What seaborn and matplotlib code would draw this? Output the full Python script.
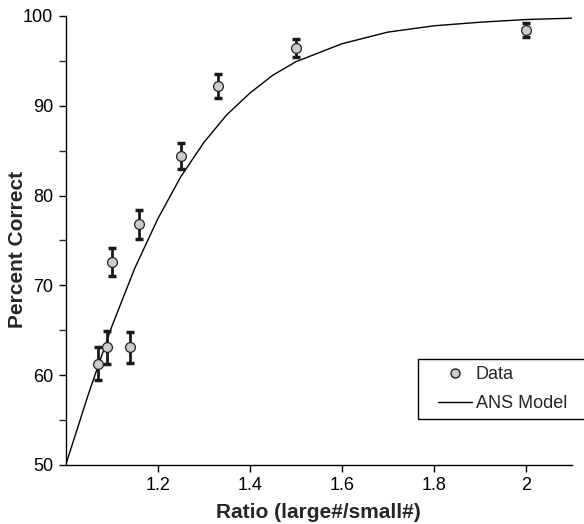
import matplotlib
matplotlib.use("Agg")
import matplotlib.pyplot as plt
from matplotlib.legend_handler import HandlerLine2D
from matplotlib.lines import Line2D
from matplotlib.ticker import MultipleLocator
import pandas as pd
import seaborn as sns

# observed data (ratio, percent correct, error)
ratio = [1.07, 1.09, 1.10, 1.14, 1.16, 1.25, 1.33, 1.50, 2.00]
percent = [61.3, 63.1, 72.6, 63.1, 76.8, 84.4, 92.2, 96.4, 98.4]
err = [1.8, 1.8, 1.6, 1.7, 1.6, 1.4, 1.35, 1.0, 0.8]

# ANS model curve
model_ratio = [1.00, 1.05, 1.10, 1.15, 1.20, 1.25, 1.30, 1.35, 1.40, 1.45,
               1.50, 1.60, 1.70, 1.80, 1.90, 2.00, 2.10]
model_percent = [50.0, 58.0, 65.4, 71.9, 77.4, 82.1, 85.9, 89.0, 91.4, 93.4,
                 94.9, 96.9, 98.2, 98.9, 99.3, 99.6, 99.75]

data_df = pd.DataFrame({"ratio": ratio, "percent": percent, "err": err})
model_df = pd.DataFrame({"ratio": model_ratio, "percent": model_percent})

sns.set_style("ticks")
plt.rcParams["font.family"] = ["Liberation Sans", "DejaVu Sans"]

fig = plt.figure(figsize=(5.84, 5.24), dpi=100)
ax = fig.add_axes([0.1125, 0.1126, 0.867, 0.857])

sns.lineplot(data=model_df, x="ratio", y="percent", color="black", linewidth=1.0, ax=ax)
ax.errorbar(data_df["ratio"], data_df["percent"], yerr=data_df["err"], fmt="none",
            ecolor="#1a1a1a", elinewidth=2.0, capsize=3, capthick=2.5, zorder=3)
sns.scatterplot(data=data_df, x="ratio", y="percent", s=50, color="#cccccc",
                edgecolor="#222222", linewidth=0.9, zorder=4, ax=ax)

ax.set_xlim(1.0, 2.1)
ax.set_ylim(50, 100)
ax.set_xticks([1.2, 1.4, 1.6, 1.8, 2.0])
ax.set_xticklabels(["1.2", "1.4", "1.6", "1.8", "2"])
ax.yaxis.set_major_locator(MultipleLocator(10))
ax.yaxis.set_minor_locator(MultipleLocator(5))
ax.tick_params(axis="both", which="major", direction="out", length=5, width=1,
               labelsize=13, colors="black", pad=4)
ax.tick_params(axis="y", which="minor", direction="out", length=5, width=1)
for side in ["left", "bottom"]:
    ax.spines[side].set_color("black")
    ax.spines[side].set_linewidth(1.0)
sns.despine(ax=ax)

ax.set_xlabel("Ratio (large#/small#)", fontsize=15, fontweight="bold", labelpad=6)
ax.set_ylabel("Percent Correct", fontsize=15, fontweight="bold")
ax.yaxis.set_label_coords(-0.077, 0.48)

handles = [
    Line2D([], [], marker="o", linestyle="none", markersize=6.5,
           markerfacecolor="#cccccc", markeredgecolor="#222222"),
    Line2D([], [], color="black", linewidth=1.0),
]
leg = ax.legend(handles, ["Data", "ANS Model"], loc="lower left",
                bbox_to_anchor=(0.716, 0.2004, 0.292, 0.118),
                bbox_transform=fig.transFigure, mode="expand",
                handler_map={Line2D: HandlerLine2D(xpad=0.72)},
                fontsize=13, frameon=True, fancybox=False, edgecolor="black",
                framealpha=1, handlelength=2.62, handletextpad=0.22,
                borderpad=0.36, labelspacing=0.7, borderaxespad=0)
leg.get_frame().set_linewidth(1.0)

fig.savefig("out.png", dpi=100)
